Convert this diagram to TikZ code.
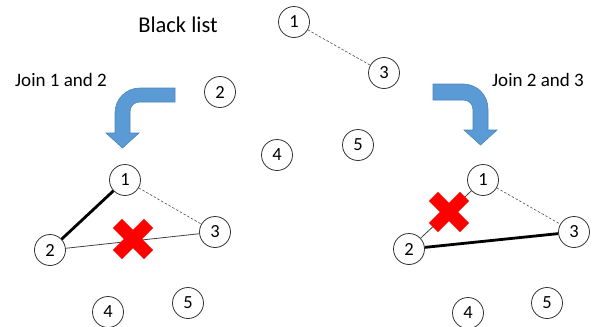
\documentclass[tikz,border=0pt]{standalone}
\usepackage{fontspec}
\setmainfont{Carlito}
\begin{document}
\begin{tikzpicture}[x=1pt,y=-1pt,
  vtx/.style={circle,draw=black!80,line width=0.8pt,fill=white,minimum size=31pt,inner sep=0pt,font=\fontsize{18.5}{18.5}\selectfont},
  lbl/.style={font=\fontsize{19}{19}\selectfont,inner sep=0pt},
  blk/.style={dashed,draw=black!70,line width=0.6pt,dash pattern=on 2.5pt off 1.8pt},
  thin/.style={draw=black!75,line width=0.8pt},
  thick/.style={draw=black,line width=2.8pt},
  bluearrow/.style={fill=arrowblue,draw=arrowblue!85!black,line width=0.6pt},
  xarm/.style={fill=red,draw=none}]
\definecolor{arrowblue}{RGB}{91,155,213}
\useasboundingbox (0,0) rectangle (598,327);

% titles
\node[lbl,font=\fontsize{22.5}{22.5}\selectfont] (title) at (178,25) {Black list};
\node[lbl] (joinA) at (61,80) {Join 1 and 2};
\node[lbl] (joinB) at (538,80) {Join 2 and 3};

% initial graph with the black-listed pair
\node[vtx] (t1) at (294,22) {1};
\node[vtx] (t2) at (220,92) {2};
\node[vtx] (t3) at (384,73) {3};
\node[vtx] (t4) at (277,155) {4};
\node[vtx] (t5) at (358,145) {5};
\draw[blk] (t1) -- (t3);

% left result: 1-2 joined, 2-3 forbidden
\node[vtx] (a1) at (125,180) {1};
\node[vtx] (a2) at (50,250) {2};
\node[vtx] (a3) at (215,232) {3};
\node[vtx] (a4) at (108,312) {4};
\node[vtx] (a5) at (188,303) {5};
\draw[thick] (a1) -- (a2);
\draw[thin] (a2) -- (a3);
\draw[blk] (a1) -- (a3);

% right result: 2-3 joined, 1-2 forbidden
\node[vtx] (b1) at (483,180) {1};
\node[vtx] (b2) at (409,249) {2};
\node[vtx] (b3) at (574,232) {3};
\node[vtx] (b4) at (468,313) {4};
\node[vtx] (b5) at (547,303) {5};
\draw[thin] (b1) -- (b2);
\draw[thick] (b2) -- (b3);
\draw[blk] (b1) -- (b3);

% red crosses
\foreach \cx/\cy in {133/239, 449/212}{
  \begin{scope}[shift={(\cx,\cy)}]
    \fill[xarm,rotate=45] (-22,-6.5) rectangle (22,6.5);
    \fill[xarm,rotate=-45] (-22,-6.5) rectangle (22,6.5);
  \end{scope}
}

% bent arrows
\path[bluearrow] (175,88) -- (140,88) .. controls (126,88) and (115,99) .. (115,113)
  -- (115,133) -- (106,133) -- (122.5,148) -- (139,133) -- (130,133) -- (130,112)
  .. controls (130,106) and (134,102) .. (140,102) -- (175,102) -- cycle;
\path[bluearrow] (433,84) -- (463,84) .. controls (477,84) and (488,95) .. (488,109)
  -- (488,130) -- (497,130) -- (480.5,145) -- (464,130) -- (473,130) -- (473,110)
  .. controls (473,104) and (469,100) .. (463,100) -- (433,100) -- cycle;
\end{tikzpicture}
\end{document}
